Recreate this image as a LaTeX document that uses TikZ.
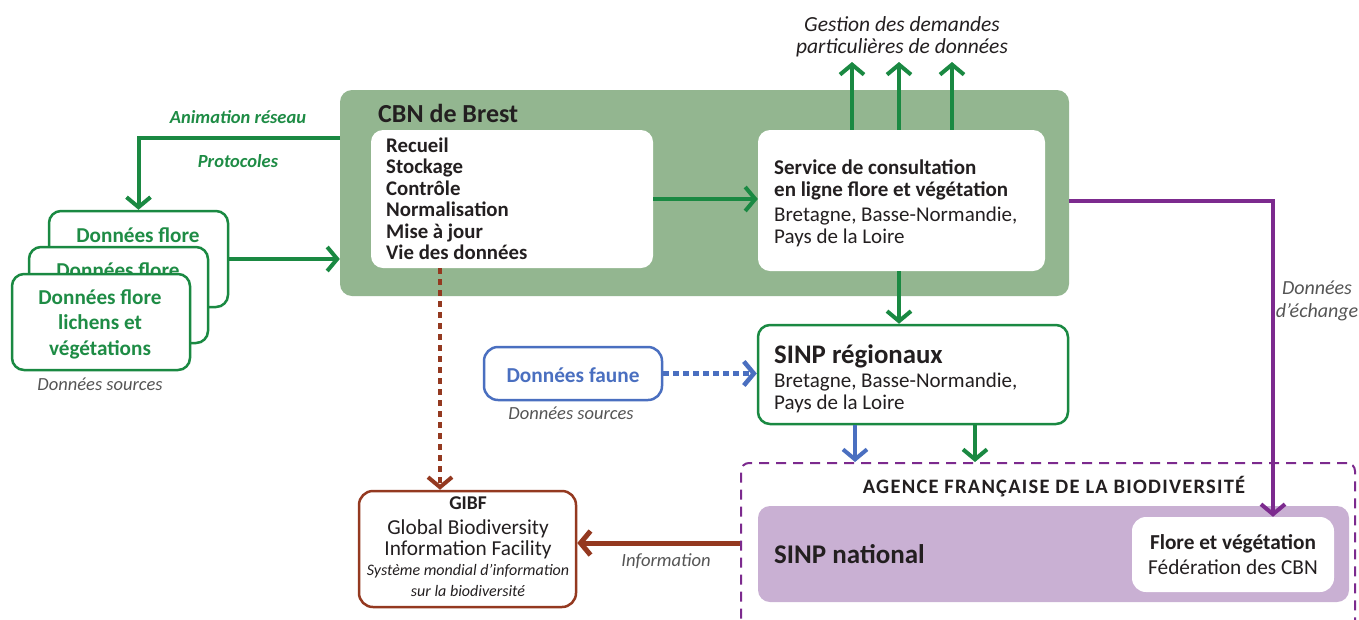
\documentclass[tikz,border=0pt]{standalone}
\usepackage{fontspec}
\setmainfont{Carlito}
\usetikzlibrary{arrows.meta,calc}
\definecolor{gline}{HTML}{1A8942}
\definecolor{gtext}{HTML}{1E8C45}
\definecolor{cbnfill}{HTML}{93B690}
\definecolor{purp}{HTML}{7C2A8E}
\definecolor{lav}{HTML}{C9B0D3}
\definecolor{brn}{HTML}{943920}
\definecolor{blu}{HTML}{4A6FC0}
\definecolor{gtxt}{HTML}{555555}
\definecolor{dtxt}{HTML}{231F20}
\newcommand\myfs[2]{\fontsize{#1}{#2}\selectfont}
\begin{document}
\begin{tikzpicture}[x=1pt,y=-1pt,
  tipA/.tip={Straight Barb[length=10pt,width=24pt]},
  garrow/.style={draw=gline,line width=4pt,-tipA},
  parrow/.style={draw=purp,line width=4pt,-tipA},
  barrow/.style={draw=blu,line width=4pt,-tipA},
  rarrow/.style={draw=brn,line width=5pt,-tipA},
  bdot/.style={draw=blu,line width=4.5pt,dash pattern=on 6pt off 4pt,-tipA},
  rdot/.style={draw=brn,line width=4pt,dash pattern=on 6pt off 5pt,-tipA},
  rbox/.style={rounded corners=12pt,inner sep=0pt},
  txt/.style={inner sep=0pt,text=dtxt}]
\clip (0,0) rectangle (1359,619);
\fill[white] (0,0) rectangle (1359,619);

% CBN main
\node[rbox,fill=cbnfill,minimum width=729pt,minimum height=206pt] (cbn) at (704.5,193) {};
\node[txt,anchor=west,font=\myfs{26}{28}\bfseries] (cbnt) at (378,113) {CBN de Brest};
\node[rbox,fill=white,minimum width=282pt,minimum height=138pt] (b1) at (512,199) {};
\node[txt,anchor=west,align=left,font=\myfs{20.8}{21.5}\bfseries] (b1t) at (386,199) {Recueil\\Stockage\\Contrôle\\Normalisation\\Mise à jour\\Vie des données};
\node[rbox,fill=white,minimum width=287pt,minimum height=141pt] (b2) at (901.5,200.5) {};
\node[txt,anchor=west,align=left,font=\myfs{21}{21.5}] (b2t) at (774,203.5) {\bfseries Service de consultation\\\bfseries en ligne flore et végétation\\[4pt]Bretagne, Basse-Normandie,\\Pays de la Loire};

% Gestion
\node[txt,align=center,font=\myfs{21.5}{22}\itshape] (gest) at (902,36.5) {Gestion des demandes\\particulières de données};
\coordinate (g1) at (852,62);
\coordinate (g2) at (899,62);
\coordinate (g3) at (952,62);

% flore boxes
\node[rbox,draw=gline,line width=2.5pt,fill=white,minimum width=179pt,minimum height=96pt] (fb) at (138.5,259) {};
\node[txt,text=gtext,font=\myfs{21.2}{22}\bfseries] (fbt) at (138,235) {Données flore};
\node[rbox,draw=gline,line width=2.5pt,fill=white,minimum width=179pt,minimum height=96pt] (fm) at (118.5,295) {};
\node[txt,text=gtext,font=\myfs{21.2}{22}\bfseries] (fmt) at (118,270) {Données flore};
\node[rbox,draw=gline,line width=2.5pt,fill=white,minimum width=178pt,minimum height=96pt] (ff) at (101,322) {};
\node[txt,text=gtext,align=center,font=\myfs{21.2}{25.5}\bfseries] (fft) at (100,324) {Données flore\\lichens et\\végétations};
\node[txt,text=gtxt,font=\myfs{18.5}{19}\itshape] (ds1) at (100,384) {Données sources};

\node[txt,text=gtext,font=\myfs{18.5}{19}\bfseries\itshape] (anl) at (238,117) {Animation réseau};
\node[txt,text=gtext,font=\myfs{18.5}{19}\bfseries\itshape] (prl) at (238,161) {Protocoles};

% SINP regionaux
\node[rbox,draw=gline,line width=2.5pt,fill=white,minimum width=310pt,minimum height=99pt] (sr) at (913,374.5) {};
\node[txt,anchor=west,align=left,font=\myfs{21}{22}] (srt) at (774,379) {\myfs{26.8}{22}\bfseries SINP régionaux\\[2pt]Bretagne, Basse-Normandie,\\Pays de la Loire};

% faune
\node[rbox,rounded corners=14pt,draw=blu,line width=2.5pt,fill=white,minimum width=178pt,minimum height=53pt] (fa) at (573,373.5) {};
\node[txt,text=blu,font=\myfs{21.3}{22}\bfseries] (fat) at (573,375) {Données faune};
\node[txt,text=gtxt,font=\myfs{18.5}{19}\itshape] (ds2) at (571,413) {Données sources};

% AFB
\node[rounded corners=8pt,draw=purp,line width=2pt,dash pattern=on 10pt off 7pt,minimum width=614pt,minimum height=217pt,inner sep=0pt] (afb) at (1048,571.5) {};
\node[txt,font=\myfs{20.5}{20}\bfseries\addfontfeature{LetterSpace=6}] (afbt) at (1054,487) {AGENCE FRANÇAISE DE LA BIODIVERSITÉ};
\node[rbox,fill=lav,minimum width=591pt,minimum height=96pt] (sn) at (1053.5,554) {};
\node[txt,anchor=west,font=\myfs{27}{28}\bfseries] (snt) at (774,554) {SINP national};
\node[rbox,rounded corners=14pt,fill=white,minimum width=202pt,minimum height=75pt] (flv) at (1233,554.5) {};
\node[txt,align=center,font=\myfs{21.3}{22}] (flvt) at (1233,555) {\bfseries Flore et végétation\\[3pt]Fédération des CBN};

% GIBF
\node[rbox,rounded corners=14pt,draw=brn,line width=2.5pt,fill=white,minimum width=217pt,minimum height=116pt] (gibf) at (467.5,549) {};
\node[txt,align=center,font=\myfs{21.3}{21}] (gibft) at (468,547) {\myfs{19.5}{21}\bfseries GIBF\\[4pt]Global Biodiversity\\Information Facility\\[-1pt]\myfs{16}{21}\itshape Système mondial d’information\\\myfs{16}{21}\itshape sur la biodiversité};
\node[txt,text=gtxt,font=\myfs{18.6}{20}\itshape] (infl) at (666,561) {Information};

\node[txt,text=gtxt,align=center,font=\myfs{20}{23}\itshape] (dech) at (1317,300.5) {Données\\d’échange};

% connectors
\coordinate (anim) at (340,138);
\draw[garrow] (anim) -| (fb.north);
\draw[garrow] (fb.east) -- (fb.east -| cbn.west);
\draw[garrow] (b1.east) -- (b1.east -| b2.west);
\draw[garrow] (b2.north -| g1) -- (g1);
\draw[garrow] (b2.north -| g2) -- (g2);
\draw[garrow] (b2.north -| g3) -- (g3);
\coordinate (vx) at (899,0);
\draw[garrow] (b2.south -| vx) -- (sr.north -| vx);
\coordinate (px) at (1273,0);
\draw[parrow] (cbn.east |- b2.east) -| (flv.north -| px);
\draw[bdot] (fa.east) -- (fa.east -| sr.west);
\coordinate (bx) at (855,0);
\coordinate (gx) at (975,0);
\draw[barrow] (sr.south -| bx) -- (afb.north -| bx);
\draw[garrow] (sr.south -| gx) -- (afb.north -| gx);
\coordinate (rx) at (440,0);
\draw[rdot] (b1.south -| rx) -- (gibf.north -| rx);
\coordinate (iy) at (0,543);
\draw[rarrow] (afb.west |- iy) -- (gibf.east |- iy);
\end{tikzpicture}
\end{document}
